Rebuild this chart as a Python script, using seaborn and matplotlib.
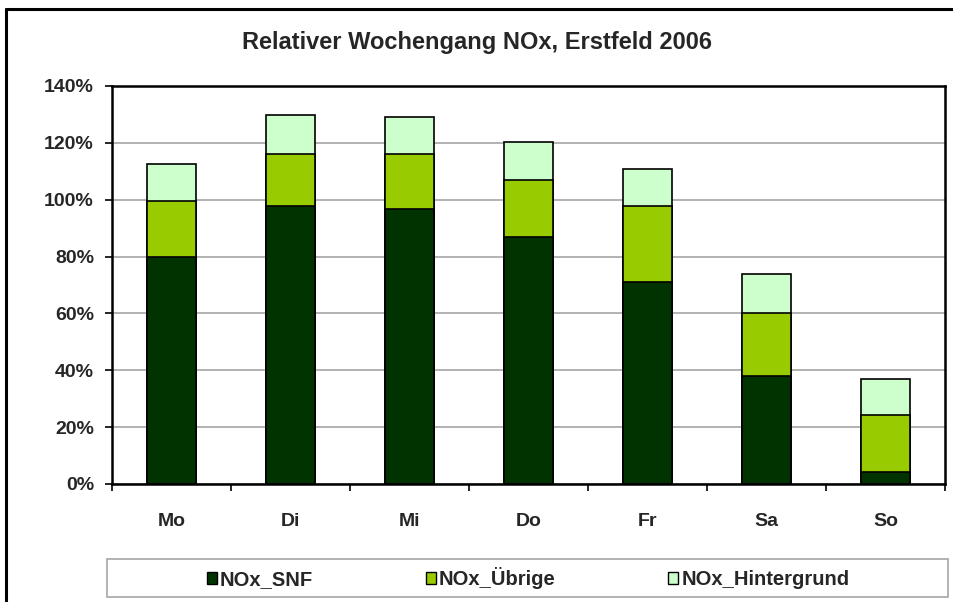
import matplotlib
matplotlib.use("Agg")
import matplotlib.pyplot as plt
from matplotlib.lines import Line2D
from matplotlib.patches import Patch, Rectangle
from matplotlib.ticker import PercentFormatter, FixedLocator
import pandas as pd
import seaborn as sns

# Data (percent of mean weekday)
days = ["Mo", "Di", "Mi", "Do", "Fr", "Sa", "So"]
snf = [79.7, 97.9, 96.8, 87.0, 71.2, 38.1, 4.1]
uebrige = [19.8, 18.2, 19.2, 20.0, 26.6, 22.0, 20.0]
hintergrund = [13.1, 13.7, 13.2, 13.2, 13.1, 13.8, 13.0]

series_names = ["NOx_SNF", "NOx_Übrige", "NOx_Hintergrund"]
colors = ["#003300", "#99CC00", "#CCFFCC"]

sns.set_style("white")
plt.rcParams["font.family"] = ["Liberation Sans", "DejaVu Sans"]
plt.rcParams["font.weight"] = "bold"

df = pd.DataFrame({"day": days, "snf": snf, "uebrige": uebrige, "hint": hintergrund})
df["lvl1"] = df["snf"]
df["lvl2"] = df["snf"] + df["uebrige"]
df["lvl3"] = df["lvl2"] + df["hint"]

fig = plt.figure(figsize=(9.54, 6.02), dpi=100)
ax = fig.add_axes([112 / 954, 1 - 484 / 602, 833 / 954, 398 / 602])

# stacked bars: draw totals first, then smaller stacks on top
for col, color in zip(["lvl3", "lvl2", "lvl1"], colors[::-1]):
    sns.barplot(data=df, x="day", y=col, color=color, width=0.41,
                edgecolor="black", linewidth=1.2, errorbar=None,
                saturation=1, ax=ax)

ax.set_ylim(0, 140)
ax.set_xlim(-0.5, 6.5)
ax.set_yticks(range(0, 141, 20))
ax.yaxis.set_major_formatter(PercentFormatter(xmax=100, decimals=0))
ax.yaxis.grid(True, color="#a6a6a6", linewidth=1.2)
ax.set_axisbelow(True)
ax.set_xlabel("")
ax.set_ylabel("")

for side in ["left", "bottom", "top", "right"]:
    ax.spines[side].set_visible(True)
    ax.spines[side].set_color("black")
    ax.spines[side].set_linewidth(1.8)

ax.tick_params(axis="y", which="major", left=True, length=5, width=1.2,
               color="black", labelsize=14, pad=8)
ax.tick_params(axis="x", which="major", length=0, labelsize=14, pad=21)
ax.xaxis.set_minor_locator(FixedLocator([i - 0.5 for i in range(len(days) + 1)]))
ax.tick_params(axis="x", which="minor", bottom=True, length=5, width=1.2, color="black")
for lbl in ax.get_xticklabels() + ax.get_yticklabels():
    lbl.set_fontweight("bold")

fig.text(0.4995, 0.929, "Relativer Wochengang NOx, Erstfeld 2006",
         ha="center", va="center", fontsize=17, fontweight="bold")

# legend
handles = [Patch(facecolor=c, edgecolor="black", linewidth=1) for c in colors]
fig.legend(handles, series_names, loc="center", bbox_to_anchor=(528 / 954, 1 - 578 / 602),
           ncol=3, frameon=False, handlelength=0.5, handleheight=0.5,
           handletextpad=0.15, columnspacing=5.6, prop={"weight": "bold", "size": 14.5})
fig.add_artist(Rectangle((107 / 954, 1 - 597 / 602), 841 / 954, 38 / 602,
                         transform=fig.transFigure, fill=False,
                         edgecolor="#a6a6a6", linewidth=1.2))

# outer chart border (top and left edges visible)
fig.add_artist(Line2D([6 / 954, 1.0], [1 - 9 / 602, 1 - 9 / 602],
                      transform=fig.transFigure, color="black", linewidth=2.2))
fig.add_artist(Line2D([6 / 954, 6 / 954], [0.0, 1 - 9 / 602],
                      transform=fig.transFigure, color="black", linewidth=2.2))

fig.savefig("out.png", dpi=100)
plt.close(fig)
